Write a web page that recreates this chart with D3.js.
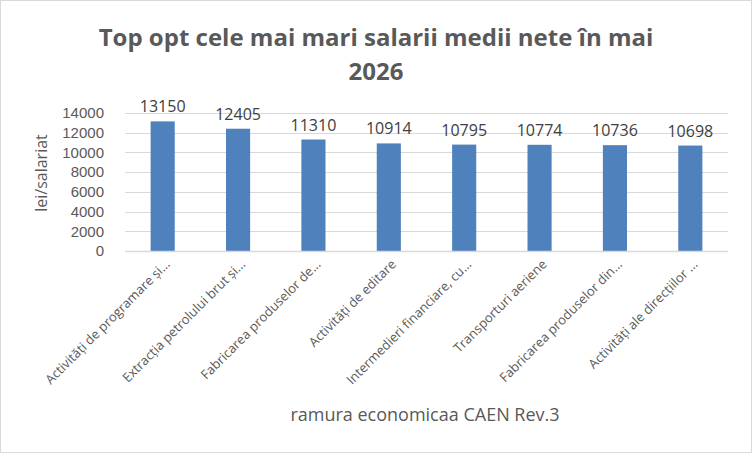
<!DOCTYPE html>
<html>
<head>
<meta charset="utf-8">
<script src="https://cdn.jsdelivr.net/npm/d3@7"></script>
<style>
	body { margin: 0; background: #fff; }
	svg { display: block; font-family: "Open Sans", sans-serif; }
</style>
</head>
<body>
<div id="chart"></div>
<script>
//data
const categories = [
	"Activități de programare și...",
	"Extracția petrolului brut și...",
	"Fabricarea produselor de...",
	"Activități de editare",
	"Intermedieri financiare, cu...",
	"Transporturi aeriene",
	"Fabricarea produselor din...",
	"Activități ale direcțiilor ..."
];
const salaries = [13150, 12405, 11310, 10914, 10795, 10774, 10736, 10698];
const yTicks = [0, 2000, 4000, 6000, 8000, 10000, 12000, 14000];

//sizing
const width = 752, height = 453;
const margin = {top: 113, right: 24, bottom: 202, left: 125};

const svg = d3.select("#chart").append("svg")
	.attr("width", width)
	.attr("height", height);

//border
svg.append("rect")
	.attr("x", 0.5).attr("y", 0.5)
	.attr("width", width - 1).attr("height", height - 1)
	.attr("fill", "#fff")
	.attr("stroke", "#d9d9d9");

//scales
const xScale = d3.scaleBand()
	.domain(categories)
	.range([margin.left, width - margin.right])
	.paddingInner(0.68)
	.paddingOuter(0.34);

const yScale = d3.scaleLinear()
	.domain([0, 14000])
	.range([height - margin.bottom, margin.top]);

//gridlines
svg.append("g")
	.selectAll("line")
	.data(yTicks)
	.enter().append("line")
	.attr("x1", margin.left)
	.attr("x2", width - margin.right)
	.attr("y1", d => Math.round(yScale(d)) + 0.5)
	.attr("y2", d => Math.round(yScale(d)) + 0.5)
	.attr("stroke", "#d9d9d9");

//y axis
const yAxis = d3.axisLeft(yScale)
	.tickValues(yTicks)
	.tickFormat(d3.format("d"))
	.tickSize(0)
	.tickPadding(21);
svg.append("g")
	.attr("transform", `translate(${margin.left},0)`)
	.call(yAxis)
	.call(g => g.select(".domain").remove())
	.selectAll("text")
	.attr("fill", "#595959")
	.style("font-size", "15px");

//bars
svg.append("g")
	.selectAll("rect")
	.data(salaries)
	.enter().append("rect")
	.attr("x", (d, i) => xScale(categories[i]))
	.attr("y", d => yScale(d))
	.attr("width", xScale.bandwidth())
	.attr("height", d => yScale(0) - yScale(d))
	.attr("fill", "#4f81bd");

//bottom axis line
svg.append("line")
	.attr("x1", margin.left).attr("x2", width - margin.right)
	.attr("y1", Math.round(yScale(0)) + 0.5).attr("y2", Math.round(yScale(0)) + 0.5)
	.attr("stroke", "#d9d9d9").attr("stroke-width", 1.5);

//data labels
svg.append("g")
	.selectAll("text")
	.data(salaries)
	.enter().append("text")
	.attr("x", (d, i) => xScale(categories[i]) + xScale.bandwidth() / 2)
	.attr("y", d => yScale(d) - 9)
	.attr("text-anchor", "middle")
	.attr("fill", "#404040")
	.style("font-size", "16px")
	.text(d => d);

//category labels
svg.append("g")
	.selectAll("text")
	.data(categories)
	.enter().append("text")
	.attr("transform", d => `translate(${xScale(d) + xScale.bandwidth() / 2 + 8},${yScale(0) + 14}) rotate(-45)`)
	.attr("text-anchor", "end")
	.attr("fill", "#595959")
	.style("font-size", "13px")
	.text(d => d);

//title
svg.append("text")
	.attr("x", 376).attr("y", 46)
	.attr("text-anchor", "middle")
	.attr("fill", "#595959")
	.style("font-size", "24px").style("font-weight", "bold")
	.text("Top opt cele mai mari salarii medii nete în mai");
svg.append("text")
	.attr("x", 376).attr("y", 80)
	.attr("text-anchor", "middle")
	.attr("fill", "#595959")
	.style("font-size", "24px").style("font-weight", "bold")
	.text("2026");

//axis titles
svg.append("text")
	.attr("transform", "translate(47,173) rotate(-90)")
	.attr("text-anchor", "middle")
	.attr("fill", "#595959")
	.style("font-size", "16px")
	.text("lei/salariat");

svg.append("text")
	.attr("x", 425).attr("y", 421)
	.attr("text-anchor", "middle")
	.attr("fill", "#595959")
	.style("font-size", "18px")
	.text("ramura economicaa CAEN Rev.3");
</script>
</body>
</html>
